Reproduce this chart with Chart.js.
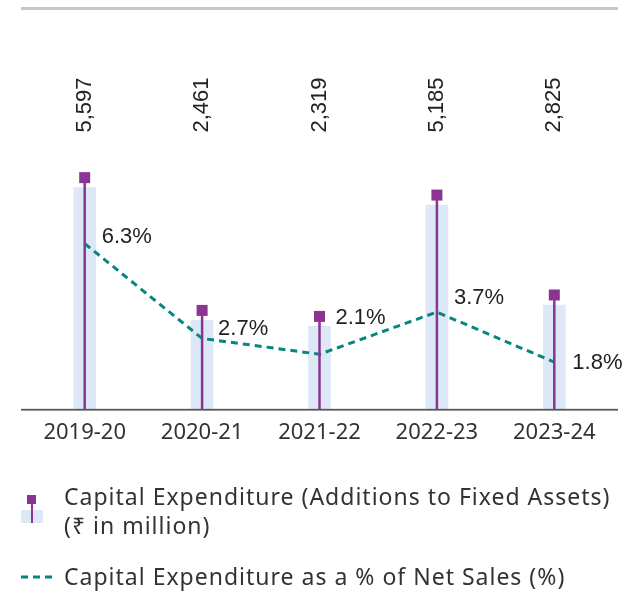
<!DOCTYPE html>
<html>
<head>
<meta charset="utf-8">
<script src="https://cdn.jsdelivr.net/npm/chart.js@4"></script>
<style>
  body { margin: 0; background: #fff; }
  #wrap { position: relative; width: 624px; height: 594px; overflow: hidden; }
  #chart { position: absolute; left: 0; top: 0; }
  #topRule { position: absolute; left: 21px; top: 7px; width: 597px; height: 3px; background: #c6c6c6; }
  .lg { position: absolute; font-family: "Noto Sans", sans-serif; font-size: 23px; letter-spacing: 1px; color: #333; white-space: nowrap; }
  .box { position: absolute; }
</style>
</head>
<body>
<div id="wrap">
  <canvas id="chart" width="624" height="594"></canvas>
  <div id="topRule"></div>

  <div class="box" style="left:21px;top:510px;width:22px;height:13px;background:#dce8f6;"></div>
  <div class="box" style="left:30.5px;top:500px;width:2.5px;height:23px;background:#8b3593;"></div>
  <div class="box" style="left:27px;top:495px;width:9px;height:9px;background:#8b3593;"></div>
  <div class="lg" style="left:64px;top:482px;line-height:28.5px;">Capital Expenditure (Additions to Fixed Assets)<br>(₹ in million)</div>

  <svg class="box" style="left:20px;top:572px;" width="36" height="10">
    <line x1="1" y1="5" x2="35" y2="5" stroke="#05867e" stroke-width="3" stroke-dasharray="7,5"></line>
  </svg>
  <div class="lg" style="left:64px;top:562px;line-height:28px;">Capital Expenditure as a % of Net Sales (%)</div>
</div>

<script>
const years = ['2019-20', '2020-21', '2021-22', '2022-23', '2023-24']
const capex = [5597, 2461, 2319, 5185, 2825]
const capexPct = [6.3, 2.7, 2.1, 3.7, 1.8]

const purple = '#8b3593'
const teal = '#05867e'
const lightBlue = '#dce8f6'

// where each % label sits relative to its point (dx, dy)
const pctLabelOffsets = [[17, -7], [16, -10], [16, -36], [17, -14], [18, 1]]

const capexMarks = {
  id: 'capexMarks',
  afterDatasetsDraw(chart) {
    const ctx = chart.ctx
    const area = chart.chartArea
    const bars = chart.getDatasetMeta(1).data
    const points = chart.getDatasetMeta(0).data

    ctx.save()
    bars.forEach(function(bar, i) {
      const top = bar.y - 10
      ctx.fillStyle = purple
      ctx.fillRect(bar.x - 1.25, top, 2.5, area.bottom - top)
      ctx.fillRect(bar.x - 5.5, top - 5.5, 11, 11)

      ctx.save()
      ctx.translate(bar.x, 105)
      ctx.rotate(-Math.PI / 2)
      ctx.font = '22px "Liberation Sans"'
      ctx.fillStyle = '#222'
      ctx.textAlign = 'center'
      ctx.textBaseline = 'middle'
      ctx.fillText(capex[i].toLocaleString('en-US'), 0, 0)
      ctx.restore()
    })

    ctx.font = '22px "Liberation Sans"'
    ctx.fillStyle = '#222'
    ctx.textAlign = 'left'
    ctx.textBaseline = 'middle'
    points.forEach(function(pt, i) {
      const off = pctLabelOffsets[i]
      ctx.fillText(capexPct[i].toFixed(1) + '%', pt.x + off[0], pt.y + off[1])
    })

    // baseline runs a little past the plot area
    ctx.fillStyle = '#555'
    ctx.fillRect(area.left - 5, area.bottom - 0.75, area.right - area.left + 10, 1.75)
    ctx.restore()
  }
}

new Chart(
  document.getElementById('chart'),
  {
    data: {
      labels: years,
      datasets: [
        {
          type: 'line',
          label: 'Capital Expenditure as a % of Net Sales (%)',
          data: capexPct,
          yAxisID: 'yPct',
          borderColor: teal,
          borderWidth: 3,
          borderDash: [7, 5],
          pointRadius: 0,
          tension: 0,
          fill: false,
          order: 0,
        },
        {
          type: 'bar',
          label: 'Capital Expenditure (Additions to Fixed Assets)',
          data: capex,
          yAxisID: 'yCap',
          backgroundColor: lightBlue,
          barThickness: 22,
          grouped: false,
          order: 1,
        }
      ]
    },
    options: {
      responsive: false,
      animation: false,
      layout: {
        padding: { left: 26, right: 11, top: 150, bottom: 138 }
      },
      plugins: {
        legend: { display: false },
        tooltip: { enabled: false },
      },
      scales: {
        x: {
          offset: true,
          grid: { display: false, drawTicks: false },
          border: { display: false },
          ticks: {
            padding: 10,
            color: '#333',
            font: { family: '"Noto Sans"', size: 22 },
          },
        },
        yCap: {
          display: false,
          min: 354,
          max: 6486,
        },
        yPct: {
          display: false,
          min: 0,
          max: 9.85,
        },
      },
    },
    plugins: [capexMarks],
  }
);
</script>
</body>
</html>
